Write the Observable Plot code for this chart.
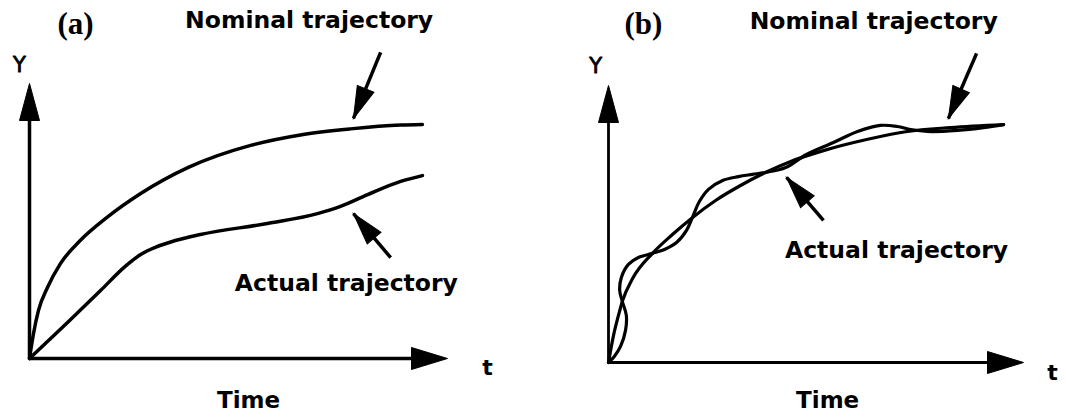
<!DOCTYPE html>
<html>
<head>
<meta charset="utf-8">
<script src="https://cdn.jsdelivr.net/npm/d3@7"></script>
<script src="https://cdn.jsdelivr.net/npm/@observablehq/plot@0.6"></script>
<style>
  html, body { margin: 0; padding: 0; background: #fff; }
  #row { display: flex; width: 1066px; height: 418px; overflow: hidden; }
  #row svg { display: block; overflow: visible; }
</style>
</head>
<body>
<div id="row"></div>
<script>
// Time and response values (arbitrary units, 0–100 on both axes).

// Panel (a): the actual trajectory lags well below the nominal one.
const timeNominalA = [0, 0.96, 2.15, 4.3, 7.4, 12.2, 18.7, 26.6, 38.0, 52.9, 64.8, 76.8, 88.8, 94.0];
const yNominalA    = [0, 9.1, 17.5, 25.8, 34.5, 43.0, 51.5, 60.0, 69.5, 77.5, 81.3, 83.5, 84.9, 85.1];
const timeActualA  = [0, 9.1, 17.0, 22.9, 26.6, 30.1, 34.9, 40.9, 56.9, 68.9, 74.4, 80.9, 88.8, 94.0];
const yActualA     = [0, 13.1, 24.7, 33.5, 37.8, 40.4, 42.9, 45.1, 49.1, 52.7, 55.3, 59.6, 64.4, 66.5];

// Panel (b): the actual trajectory oscillates about the nominal one.
const timeNominalB = [0, 1.2, 2.4, 3.4, 5.8, 10.6, 15.4, 20.2, 25.8, 31.8, 37.8, 43.9, 51.8, 62.2, 72.0, 82.4, 95.2];
const yNominalB    = [0, 9.7, 17.0, 22.4, 30.3, 39.4, 46.2, 52.3, 58.5, 63.9, 68.6, 72.6, 76.5, 80.5, 83.4, 84.8, 85.9];
const timeActualB  = [0, 1.4, 2.9, 4.1, 4.3, 3.4, 2.7, 3.1, 4.8, 7.2, 10.6, 13.5, 16.4, 18.8, 20.2, 21.9, 24.1, 27.5,
                      31.3, 34.7, 37.8, 42.7, 47.7, 54.2, 60.0, 65.5, 69.6, 72.8, 76.9, 84.1, 90.4, 95.2];
const yActualB     = [0, 2.2, 5.8, 11.6, 17.0, 21.7, 26.0, 30.7, 35.4, 37.9, 39.4, 40.8, 43.3, 47.7, 52.3, 58.1, 62.5, 65.7,
                      67.1, 67.9, 68.6, 70.4, 75.1, 79.4, 83.4, 85.6, 85.2, 84.1, 83.4, 83.8, 84.8, 85.9];

// Text
const panelTags   = ["(a)", "(b)"];
const nominalText = "Nominal trajectory";
const actualText  = "Actual trajectory";
const yAxisText   = "Y";
const tAxisText   = "t";
const timeText    = "Time";

const SANS = "DejaVu Sans";
const SERIF = "Liberation Serif";

const series = (ts, ys) => ts.map((t, i) => ({t, y: ys[i]}));

// Filled triangular arrowhead whose tip sits at the mark's anchor, pointing up before rotation.
function head(len, half) {
  return {
    draw(ctx) {
      ctx.moveTo(0, 0);
      ctx.lineTo(half, len);
      ctx.lineTo(-half, len);
      ctx.closePath();
    }
  };
}

function panel(cfg) {
  const {width, height, ml, mr, mt, mb, curveWidth, axisWidth, nominal, actual, actualCurve, tag, spots} = cfg;
  const xs = Plot.scale({x: {domain: [0, 100], range: [ml, width - mr]}});
  const ys = Plot.scale({y: {domain: [0, 100], range: [height - mb, mt]}});
  // Screen angle (degrees clockwise from up) of a pointer going from (x1,y1) to (x2,y2)
  const angle = (a) => Math.atan2(xs.apply(a.x2) - xs.apply(a.x1), -(ys.apply(a.y2) - ys.apply(a.y1))) * 180 / Math.PI;

  const pointers = [spots.nominalArrow, spots.actualArrow];
  const boldWords = [
    {x: spots.nominal[0], y: spots.nominal[1], text: nominalText, size: 23.5},
    {x: spots.actual[0], y: spots.actual[1], text: actualText, size: 23.5},
    {x: spots.tLabel[0], y: spots.tLabel[1], text: tAxisText, size: 22},
    {x: spots.time[0], y: spots.time[1], text: timeText, size: 23}
  ];

  return Plot.plot({
    width, height,
    marginLeft: ml, marginRight: mr, marginTop: mt, marginBottom: mb,
    x: {domain: [0, 100], axis: null},
    y: {domain: [0, 100], axis: null},
    style: {background: "#fff", color: "#000"},
    marks: [
      // axes with arrowheads
      Plot.ruleX([0], {y1: 0, y2: 96, stroke: "#000", strokeWidth: axisWidth}),
      Plot.ruleY([0], {x1: 0, x2: 96, stroke: "#000", strokeWidth: axisWidth}),
      Plot.dot([{x: 0, y: 100}], {x: "x", y: "y", symbol: head(37, 10), rotate: 0, fill: "#000", stroke: "#000", strokeWidth: 1}),
      Plot.dot([{x: 100, y: 0}], {x: "x", y: "y", symbol: head(36, 11), rotate: 90, fill: "#000", stroke: "#000", strokeWidth: 1}),
      // trajectories
      Plot.line(nominal, {x: "t", y: "y", curve: "monotone-x", stroke: "#000", strokeWidth: curveWidth, strokeLinecap: "round"}),
      Plot.line(actual, {x: "t", y: "y", curve: actualCurve, stroke: "#000", strokeWidth: curveWidth, strokeLinecap: "round"}),
      // pointers to the curves
      Plot.link(pointers, {x1: "x1", y1: "y1", x2: "x2", y2: "y2", stroke: "#000", strokeWidth: 3.5}),
      Plot.dot(pointers, {x: "x2", y: "y2", symbol: head(32, 9), rotate: angle, fill: "#000", stroke: "#000", strokeWidth: 1}),
      // panel tag in a bold serif
      Plot.text([tag], {x: spots.tag[0], y: spots.tag[1], text: (d) => d, fontFamily: SERIF, fontSize: 31,
        fontWeight: "bold", fill: "#000", lineAnchor: "middle"}),
      // vertical axis name, medium weight
      Plot.text([yAxisText], {x: spots.yLabel[0], y: spots.yLabel[1], text: (d) => d, fontFamily: SANS, fontSize: 21,
        fill: "#000", stroke: "#000", strokeWidth: 0.8, lineAnchor: "middle"}),
      // curve and time labels
      Plot.text(boldWords, {x: "x", y: "y", text: "text", fontFamily: SANS, fontSize: "size",
        fontWeight: "bold", fill: "#000", lineAnchor: "middle"})
    ]
  });
}

const row = document.getElementById("row");

row.appendChild(panel({
  width: 533, height: 418, ml: 29, mr: 86, mt: 83, mb: 60,
  curveWidth: 3.5, axisWidth: 3.5,
  nominal: series(timeNominalA, yNominalA),
  actual: series(timeActualA, yActualA),
  actualCurve: "monotone-x",
  tag: panelTags[0],
  spots: {
    tag: [11.0, 121.6], nominal: [66.9, 123.0], actual: [75.8, 27.3],
    yLabel: [-2.4, 106.5], tLabel: [109.6, -3.6], time: [52.4, -15.3],
    nominalArrow: {x1: 84.0, y1: 111.3, x2: 77.5, y2: 87.3},
    actualArrow: {x1: 86.4, y1: 36.7, x2: 77.5, y2: 52.7}
  }
}));

row.appendChild(panel({
  width: 533, height: 418, ml: 75, mr: 43, mt: 85, mb: 56,
  curveWidth: 3.2, axisWidth: 2.8,
  nominal: series(timeNominalB, yNominalB),
  actual: series(timeActualB, yActualB),
  actualCurve: "catmull-rom",
  tag: panelTags[1],
  spots: {
    tag: [8.4, 122.0], nominal: [63.9, 123.1], actual: [69.4, 40.4],
    yLabel: [-3.1, 106.9], tLabel: [107.0, -3.6], time: [52.8, -13.7],
    nominalArrow: {x1: 88.7, y1: 111.6, x2: 81.9, y2: 88.1},
    actualArrow: {x1: 51.8, y1: 51.3, x2: 42.9, y2: 66.8}
  }
}));
</script>
</body>
</html>
